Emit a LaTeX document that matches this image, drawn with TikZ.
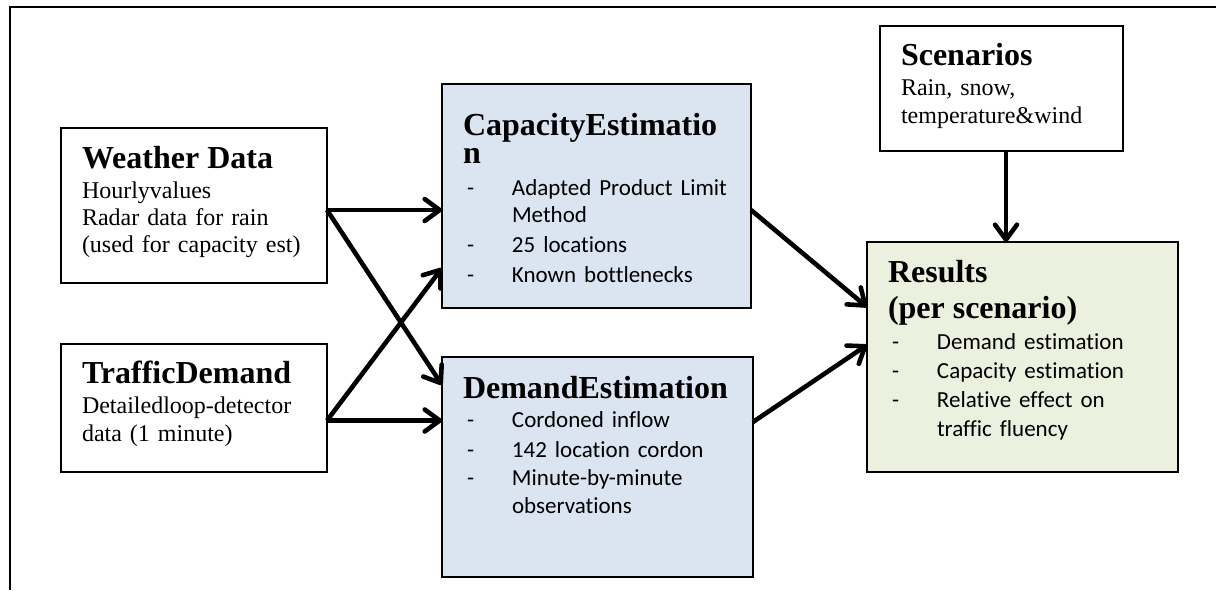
\documentclass[tikz,border=0pt]{standalone}
\usepackage{fontspec}
\setmainfont{Liberation Serif}
\newfontfamily\calibri[Ligatures=NoCommon]{Carlito}
\usetikzlibrary{arrows.meta}
\definecolor{estblue}{HTML}{DBE5F1}
\definecolor{resgreen}{HTML}{EBF1DE}
\newcommand{\boxtitle}[1]{{\fontsize{16}{0}\selectfont\bfseries #1}}
\newcommand{\itemfont}{\calibri\fontsize{11.5}{0}\selectfont}
\newcommand{\dashitem}[1]{\makebox[24.5pt][l]{\hspace{2pt}-}#1}
\newcommand{\dashcont}[1]{\hspace*{24.5pt}#1}
\begin{document}
\begin{tikzpicture}[x=0.5pt,y=-0.5pt,
    databox/.style={draw, line width=1pt, anchor=north west, align=left,
      inner xsep=10.5pt, inner ysep=0pt, outer sep=0pt,
      font={\fontsize{12}{0}\selectfont\lineskiplimit=-\maxdimen}},
    flow/.style={line width=2.3pt, -{Straight Barb[round,length=7.5pt,width=11pt]}}]
    \useasboundingbox (0,0) rectangle (1216,590);
    % frame
    \draw[line width=1.4pt] (1216,7) -- (10,7) -- (10,590);
    % inputs
    \node[databox, text width=112pt, text height=20pt, text depth=57.5pt] (weather) at (61,128)
      {\boxtitle{Weather Data}\\[15pt]Hourlyvalues\\[13.5pt]Radar data for rain\\[13.5pt](used for capacity est)};
    \node[databox, text width=112pt, text height=19.5pt, text depth=44.5pt] (traffic) at (61,344)
      {\boxtitle{TrafficDemand}\\[15pt]Detailedloop-detector\\[14pt]data (1 minute)};
    % estimations
    \node[databox, fill=estblue, text width=133.5pt, text height=25.5pt, text depth=86.5pt] (cap) at (442,84)
      {\boxtitle{CapacityEstimatio}\\[14pt]\boxtitle{n}\\[16pt]\itemfont
       \dashitem{Adapted Product Limit}\\[13.5pt]\dashcont{Method}\\[15pt]
       \dashitem{25 locations}\\[15pt]\dashitem{Known bottlenecks}};
    \node[databox, fill=estblue, text width=134.5pt, text height=20.5pt, text depth=89.5pt] (dem) at (442,357)
      {\boxtitle{DemandEstimation}\\[14.5pt]\itemfont
       \dashitem{Cordoned inflow}\\[15pt]\dashitem{142 location cordon}\\[14pt]
       \dashitem{Minute-by-minute}\\[14pt]\dashcont{observations}};
    % scenarios and results
    \node[databox, text width=100.5pt, text height=19.5pt, text depth=43pt] (scen) at (880,26)
      {\boxtitle{Scenarios}\\[15pt]Rain, snow,\\[14pt]temperature\&wind};
    \node[databox, fill=resgreen, text width=134.5pt, text height=20pt, text depth=95pt] (res) at (867,242)
      {\boxtitle{Results}\\[18pt]\boxtitle{(per scenario)}\\[15.5pt]\itemfont
       \dashitem{Demand estimation}\\[14.5pt]\dashitem{Capacity estimation}\\[14.5pt]
       \dashitem{Relative effect on}\\[14.5pt]\dashcont{traffic fluency}};
    % connectors
    \coordinate (wout) at ([yshift=-2.25pt]weather.east);
    \coordinate (tout) at ([yshift=-6.25pt]traffic.east);
    \draw[flow] (wout) -- (wout -| cap.west);
    \draw[flow] (wout) -- ([yshift=-14pt]dem.north west);
    \draw[flow] (tout) -- (tout -| dem.west);
    \draw[flow] (tout) -- ([yshift=20pt]cap.south west);
    \draw[flow] ([yshift=-7pt]cap.east) -- ([yshift=25pt]res.west);
    \draw[flow] ([yshift=22.5pt]dem.east) -- ([yshift=6pt]res.west);
    \draw[flow] ([xshift=2.25pt]scen.south) -- ([xshift=2.25pt]scen.south |- res.north);
\end{tikzpicture}
\end{document}
